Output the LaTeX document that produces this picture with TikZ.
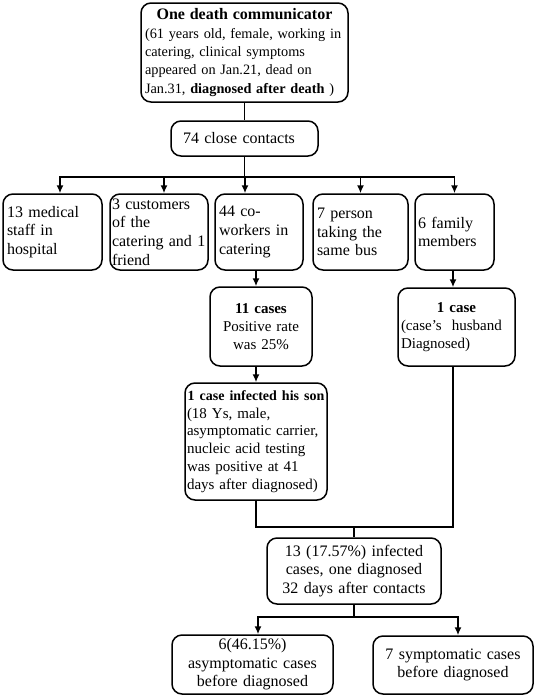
\documentclass[tikz,border=0pt]{standalone}
\usepackage{fontspec}
\setmainfont{Liberation Serif}
\usetikzlibrary{arrows.meta}
\newcommand\fsA{\fontsize{16pt}{18.6pt}\selectfont\hyphenpenalty=10000\exhyphenpenalty=10000}
\newcommand\fsB{\fontsize{15pt}{17.8pt}\selectfont\hyphenpenalty=10000\exhyphenpenalty=10000}
\newcommand\fsC{\fontsize{14.3pt}{18.3pt}\selectfont\hyphenpenalty=10000\exhyphenpenalty=10000}
\newcommand\oneline[1]{\mbox{#1}}
\newcommand\ctitle[1]{\makebox[\linewidth][c]{\textbf{#1}}}
\tikzset{
  box/.style={draw, line width=1.5pt, rounded corners=10pt, inner ysep=0pt, font=\fsA},
  arr/.style={line width=1.5pt, -{Latex[length=8pt,width=7pt]}},
  ln/.style={line width=1.5pt},
}
\begin{document}
\begin{tikzpicture}[x=1pt,y=-1pt]
\useasboundingbox (0,0) rectangle (536,697);
% top
\node[box, font=\fsC, minimum width=207, minimum height=99, text width=199, inner xsep=4, align=left] (top) at (244.5,52.5)
 {\ctitle{\fontsize{16pt}{18.3pt}\selectfont One death communicator}\\\oneline{(61 years old, female, working in}\\catering, clinical symptoms\\appeared on Jan.21, dead on\\\oneline{Jan.31, \textbf{diagnosed after death} )}};
\node[box, minimum width=147, minimum height=35, text width=123, inner xsep=12, align=left] (cc) at (244.5,138.5) {74 close contacts};
% row
\node[box, minimum width=99, minimum height=76, text width=91, inner xsep=4, align=left] (b1) at (52.5,232) {13 medical\\staff in\\hospital};
\node[box, minimum width=98, minimum height=76, text width=94, inner xsep=2, align=left] (b2) at (159,232) {3 customers\\of the\\\oneline{catering and 1}\\friend};
\node[box, minimum width=88, minimum height=76, text width=80, inner xsep=4, align=left] (b3) at (259,232) {44 co-\\workers in\\catering};
\node[box, minimum width=95, minimum height=76, text width=87, inner xsep=4, align=left] (b4) at (360.5,232) {7 person\\taking the\\same bus};
\node[box, minimum width=79, minimum height=76, text width=73, inner xsep=3, align=left] (b5) at (454.5,232) {6 family\\members};
% second level
\node[box, font=\fsB, minimum width=102, minimum height=79, text width=96, inner xsep=3, align=center] (c11) at (261,326.5) {\textbf{11 cases}\\Positive rate\\was 25\%};
\node[box, font=\fsB, minimum width=117, minimum height=78, text width=111, inner xsep=3, align=left] (one) at (456.5,327)
 {\ctitle{1 case}\\\oneline{(case’s\ \ husband}\\Diagnosed)};
\node[box, font=\fsB, minimum width=142, minimum height=117, text width=138, inner xsep=2, align=left] (son) at (256,441.5)
 {\ctitle{\fontsize{14pt}{17.8pt}\selectfont 1 case infected his son}\\(18 Ys, male,\\\oneline{asymptomatic carrier,}\\nucleic acid testing\\was positive at 41\\\oneline{days after diagnosed)}};
\node[box, minimum width=174, minimum height=66, text width=170, inner xsep=2, align=center] (n13) at (354,571)
 {13 (17.57\%) infected\\cases, one diagnosed\\32 days after contacts};
\node[box, minimum width=161, minimum height=59, text width=155, inner xsep=3, align=center] (bl) at (252.5,664.5)
 {6(46.15\%)\\asymptomatic cases\\before diagnosed};
\node[box, minimum width=160, minimum height=58, text width=154, inner xsep=3, align=center] (br) at (453,665)
 {7 symptomatic cases\\before diagnosed};
% connectors
\coordinate (h) at (0,177);
\draw[ln] (top.south) -- (cc.north);
\draw[arr] (cc.south) -- (cc.south |- h) -| ([xshift=7.5pt]b1.north);
\draw[arr] (cc.south) -- (cc.south |- h) -| ([xshift=5pt]b2.north);
\draw[arr] (cc.south) -- (cc.south |- h) -| ([xshift=-14pt]b3.north);
\draw[arr] (cc.south) -- (cc.south |- h) -| (b4.north);
\draw[arr] (cc.south) -- (cc.south |- h) -| (b5.north);
\draw[arr] ([xshift=-3pt]b3.south) -- ([xshift=-3pt]b3.south |- c11.north);
\draw[arr] ([xshift=-1.5pt]b5.south) -- ([xshift=-1.5pt]b5.south |- one.north);
\draw[arr] (son.north |- c11.south) -- (son.north);
\coordinate (jm) at (354,527);
\draw[ln] (son.south) |- (jm);
\draw[ln] ([xshift=-3.5pt]one.south) |- (jm);
\draw[ln] (jm) -- (n13.north);
\coordinate (jb) at (354,617);
\draw[ln] (n13.south) -- (jb);
\draw[arr] (jb) -| ([xshift=5.5pt]bl.north);
\draw[arr] (jb) -| ([xshift=5pt]br.north);
\end{tikzpicture}
\end{document}
